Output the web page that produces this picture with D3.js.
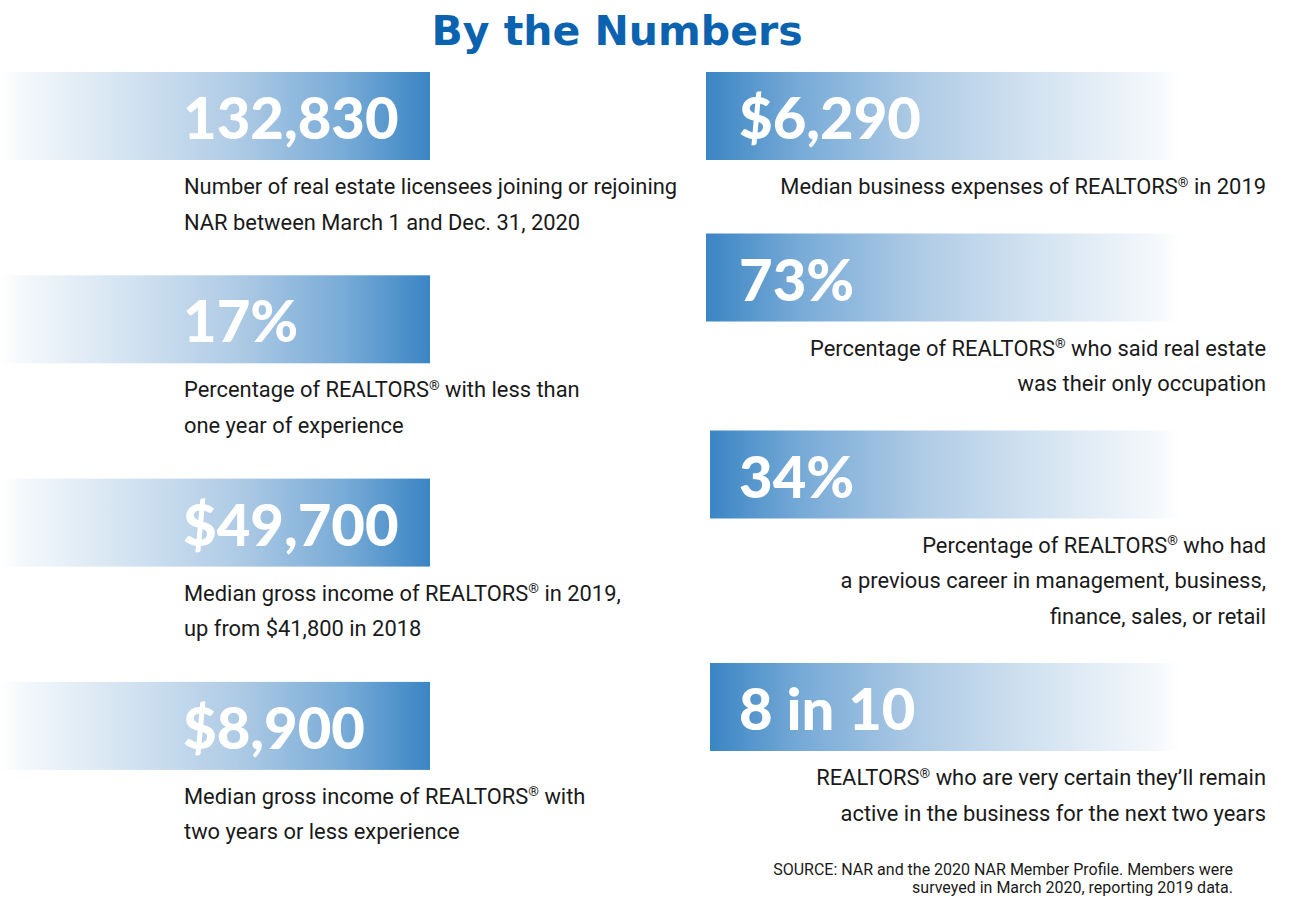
<!DOCTYPE html>
<html><head><meta charset="utf-8">
<script src="https://cdn.jsdelivr.net/npm/d3@7"></script>
<style>
html,body{margin:0;padding:0;background:#fff;}
svg{display:block;}
</style></head>
<body>
<svg id="chart" width="1300" height="914"></svg>
<script>
// ---- data ----
const title = "By the Numbers";
const leftFigures = ["132,830", "17%", "$49,700", "$8,900"];
const leftDescriptions = [
  ["Number of real estate licensees joining or rejoining", "NAR between March 1 and Dec. 31, 2020"],
  ["Percentage of REALTORS® with less than", "one year of experience"],
  ["Median gross income of REALTORS® in 2019,", "up from $41,800 in 2018"],
  ["Median gross income of REALTORS® with", "two years or less experience"]
];
const rightFigures = ["$6,290", "73%", "34%", "8 in 10"];
const rightDescriptions = [
  ["Median business expenses of REALTORS® in 2019"],
  ["Percentage of REALTORS® who said real estate", "was their only occupation"],
  ["Percentage of REALTORS® who had", "a previous career in management, business,", "finance, sales, or retail"],
  ["REALTORS® who are very certain they’ll remain", "active in the business for the next two years"]
];
const sourceLines = [
  "SOURCE: NAR and the 2020 NAR Member Profile. Members were",
  "surveyed in March 2020, reporting 2019 data."
];

// ---- layout ----
const svg = d3.select("#chart");
const bannerH = 88, descOffset = 34, lineH = 35.5;
const blue = "#3a85c4";

const defs = svg.append("defs");
function grad(id, dir) {
  const g = defs.append("linearGradient").attr("id", id)
    .attr("x1", dir > 0 ? "0%" : "100%").attr("x2", dir > 0 ? "100%" : "0%")
    .attr("y1", "0%").attr("y2", "0%");
  const stops = [[0, "#ffffff"], [0.06, "#f3f7fb"], [0.3, "#d3e3f1"], [0.55, "#afcbe5"], [0.8, "#78abd7"], [1, blue]];
  stops.forEach(s => g.append("stop").attr("offset", s[0]).attr("stop-color", s[1]));
}
grad("gradL", 1);
grad("gradR", -1);

svg.append("text").attr("x", 617).attr("y", 45)
  .attr("text-anchor", "middle")
  .attr("font-family", "DejaVu Sans").attr("font-weight", 700).attr("font-size", 41)
  .attr("fill", "#0b63b0").text(title);

function flowTops(descs, start, gap) {
  const tops = []; let y = start;
  descs.forEach(d => { tops.push(y); y += bannerH + descOffset + (d.length - 1) * lineH + gap; });
  return tops;
}

function writeLine(sel, t) {
  const parts = t.split("®");
  parts.forEach((p, k) => {
    if (k > 0) {
      sel.append("tspan").attr("font-size", "0.62em").attr("dy", "-0.55em").text("®");
      sel.append("tspan").attr("dy", "0.341em").text(p);
    } else {
      sel.append("tspan").text(p);
    }
  });
}

function column(figures, descs, opts) {
  const tops = flowTops(descs, 72, opts.gap);
  const y = d3.scaleOrdinal().domain(d3.range(figures.length)).range(tops);
  const g = svg.append("g");
  const rows = g.selectAll("g.row").data(figures.map((f, i) => ({ f, d: descs[i], i })))
    .join("g").attr("class", "row").attr("transform", d => `translate(0,${y(d.i)})`);
  rows.append("rect").attr("x", d => opts.bx(d.i)).attr("y", 0).attr("width", d => opts.bw(d.i)).attr("height", bannerH)
    .attr("fill", `url(#${opts.grad})`);
  rows.append("text").attr("x", opts.fx).attr("y", 67)
    .attr("font-family", "Lato").attr("font-weight", 900).attr("font-size", 58)
    .attr("fill", "#fff").text(d => d.f);
  rows.each(function (d) {
    d3.select(this).selectAll("text.desc").data(d.d).join("text").attr("class", "desc")
      .attr("x", opts.tx).attr("y", (t, j) => bannerH + descOffset + j * lineH)
      .attr("text-anchor", opts.anchor)
      .attr("font-family", "Roboto").attr("font-size", 21.9).attr("fill", "#1a1a1a")
      .each(function (t) { writeLine(d3.select(this), t); });
  });
}

column(leftFigures, leftDescriptions, { gap: 45.8, bx: () => 0, bw: () => 430, grad: "gradL", fx: 183, tx: 184, anchor: "start" });
column(rightFigures, rightDescriptions, { gap: 39.5, bx: i => i < 2 ? 706 : 710, bw: i => i < 2 ? 474 : 470, grad: "gradR", fx: 739, tx: 1266, anchor: "end" });

svg.append("g").selectAll("text").data(sourceLines).join("text")
  .attr("x", 1233).attr("y", (d, i) => 875 + i * 18)
  .attr("text-anchor", "end").attr("font-family", "Roboto").attr("font-size", 16)
  .attr("fill", "#1a1a1a").text(d => d);
</script>
</body></html>
